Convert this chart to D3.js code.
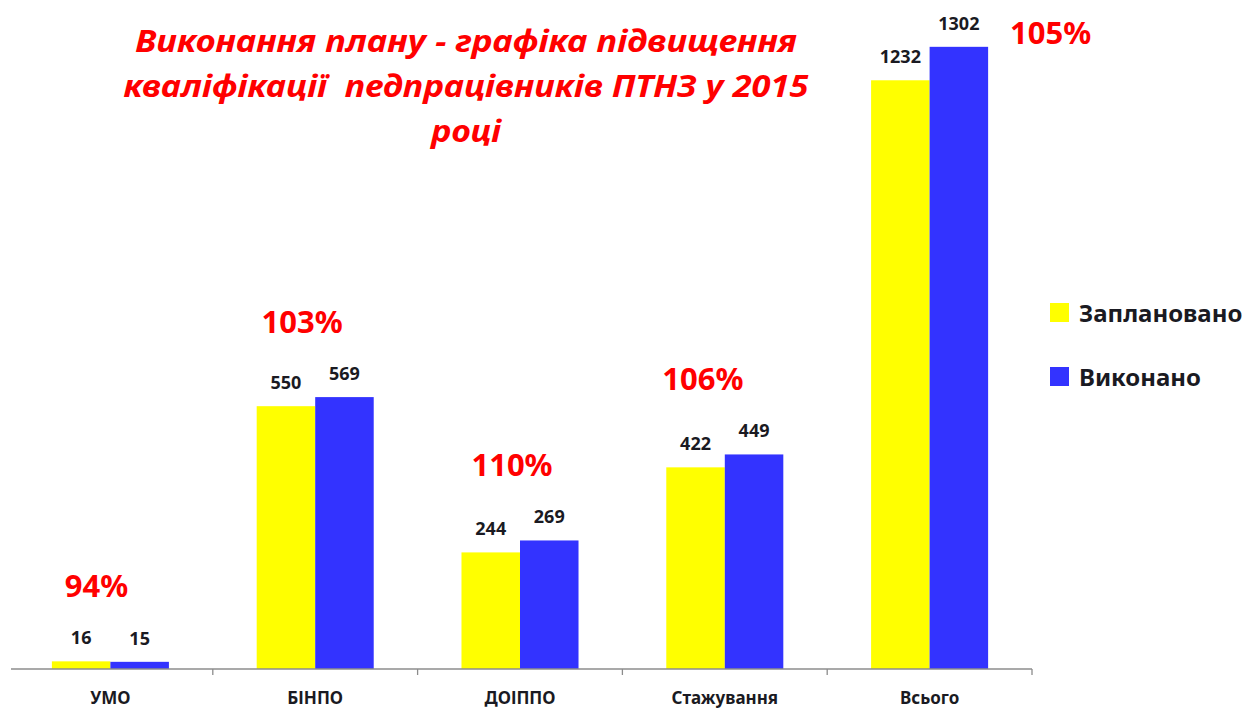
<!DOCTYPE html>
<html>
<head>
<meta charset="utf-8">
<script src="https://cdn.jsdelivr.net/npm/d3@7"></script>
<style>
  body { margin: 0; background: #fff; }
  text { font-family: "Noto Sans", "DejaVu Sans", sans-serif; }
</style>
</head>
<body>
<div id="chart"></div>
<script>
// chart data
const categories = ['УМО', 'БІНПО', 'ДОІППО', 'Стажування', 'Всього'];
const seriesNames = ['Заплановано', 'Виконано'];
const planned = [16, 550, 244, 422, 1232];
const done = [15, 569, 269, 449, 1302];
const percentLabels = ['94%', '103%', '110%', '106%', '105%'];
const titleLines = [
    'Виконання плану - графіка підвищення',
    'кваліфікації  педпрацівників ПТНЗ у 2015',
    'році'
];
const colors = ['#ffff00', '#3333ff'];

// layout for the percent labels (offset from group centre, height above the taller value label)
const pctOffsets = [[-14, 47], [-13, 47], [-8, 47], [-22, 47], [121, -14]];

const width = 1246, height = 709;
const plot = {left: 8, right: 1032, top: 0, bottom: 669};

const svg = d3.select('#chart').append('svg')
    .attr('width', width)
    .attr('height', height);

const x0 = d3.scaleBand()
    .domain(categories)
    .range([plot.left, plot.right])
    .paddingInner(0)
    .paddingOuter(0);

const x1 = d3.scaleBand()
    .domain(seriesNames)
    .range([0, x0.bandwidth()])
    .paddingInner(0)
    .paddingOuter(0.75);

const y = d3.scaleLinear()
    .domain([0, 1400])
    .range([plot.bottom, plot.top]);

const rows = categories.map((c, i) => ({cat: c, vals: [planned[i], done[i]], pct: percentLabels[i], idx: i}));

// bars
const groups = svg.append('g').selectAll('g')
    .data(rows)
    .join('g')
    .attr('transform', d => `translate(${x0(d.cat)},0)`);

groups.selectAll('rect')
    .data(d => d.vals.map((v, k) => ({series: seriesNames[k], value: v, k: k})))
    .join('rect')
    .attr('x', d => x1(d.series))
    .attr('y', d => y(d.value))
    .attr('width', x1.bandwidth())
    .attr('height', d => plot.bottom - y(d.value))
    .attr('fill', d => colors[d.k]);

// value labels
groups.selectAll('text.val')
    .data(d => d.vals.map((v, k) => ({series: seriesNames[k], value: v})))
    .join('text')
    .attr('class', 'val')
    .attr('x', d => x1(d.series) + x1.bandwidth() / 2)
    .attr('y', d => y(d.value) - 17)
    .attr('text-anchor', 'middle')
    .attr('font-size', 18)
    .attr('font-weight', 'bold')
    .attr('fill', '#1a1a22')
    .text(d => d.value);

// percent labels
groups.append('text')
    .attr('x', d => x0.bandwidth() / 2 + pctOffsets[d.idx][0])
    .attr('y', d => y(d3.max(d.vals)) - 17 - pctOffsets[d.idx][1])
    .attr('text-anchor', 'middle')
    .attr('font-size', 31)
    .attr('font-weight', 'bold')
    .attr('fill', '#ff0000')
    .text(d => d.pct);

// x axis
const axisG = svg.append('g')
    .attr('transform', `translate(0,${plot.bottom})`);
axisG.append('line')
    .attr('x1', 11).attr('x2', plot.right)
    .attr('stroke', '#8c8c8c').attr('stroke-width', 1.3);
const edges = categories.map(c => x0(c)).concat([plot.right]);
axisG.selectAll('line.tick')
    .data(edges.slice(1))
    .join('line')
    .attr('class', 'tick')
    .attr('x1', d => d).attr('x2', d => d)
    .attr('y1', 0).attr('y2', 6)
    .attr('stroke', '#8c8c8c').attr('stroke-width', 1.3);
axisG.selectAll('text.cat')
    .data(categories)
    .join('text')
    .attr('class', 'cat')
    .attr('x', d => x0(d) + x0.bandwidth() / 2)
    .attr('y', 35)
    .attr('text-anchor', 'middle')
    .attr('font-size', 17)
    .attr('font-weight', 'bold')
    .attr('fill', '#1a1a22')
    .text(d => d);

// title
const titleWidths = [662, 685, 70];
svg.append('g').selectAll('text')
    .data(titleLines)
    .join('text')
    .attr('x', 466)
    .attr('y', (d, i) => 52 + i * 45)
    .attr('text-anchor', 'middle')
    .attr('font-size', 30)
    .attr('font-weight', 'bold')
    .attr('font-style', 'italic')
    .attr('fill', '#ff0000')
    .attr('textLength', (d, i) => titleWidths[i])
    .attr('lengthAdjust', 'spacingAndGlyphs')
    .style('white-space', 'pre')
    .text(d => d);

// legend
const legend = svg.append('g').selectAll('g')
    .data(seriesNames)
    .join('g')
    .attr('transform', (d, i) => `translate(1050,${303 + i * 64})`);
legend.append('rect')
    .attr('width', 19).attr('height', 19)
    .attr('fill', (d, i) => colors[i]);
legend.append('text')
    .attr('x', 29)
    .attr('y', 19)
    .attr('font-size', 24)
    .attr('font-weight', 'bold')
    .attr('fill', '#1a1a22')
    .text(d => d);
</script>
</body>
</html>
